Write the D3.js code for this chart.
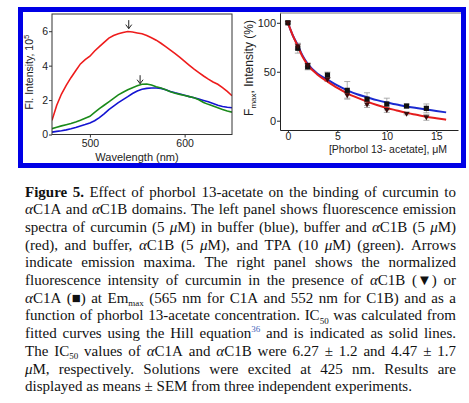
<!DOCTYPE html>
<html>
<head>
<meta charset="utf-8" />
<style>
  body { margin: 0; background: #fff; }
  svg { display: block; }
  .tick text { fill: #222; }
  .sans { font-family: "Liberation Sans", Arial, sans-serif; }
  .serif { font-family: "Liberation Serif", "Times New Roman", serif; }
</style>
</head>
<body>
<svg id="fig" width="469" height="403"></svg>
<script src="https://d3js.org/d3.v7.min.js"></script>
<script>
// left panel: emission spectra (x 10^5)
var wavelengths = [460,465,470,475,480,485,490,495,500,505,510,515,520,525,530,535,540,545,550,555,
                   560,565,570,575,580,585,590,595,600,605,610,615,620,625,630,635,640,645,650];
var bufferOnly = [0.14,0.18,0.22,0.27,0.33,0.41,0.50,0.58,0.67,0.80,0.98,1.20,1.45,1.65,1.85,2.03,2.20,2.38,2.53,2.63,
                  2.68,2.70,2.70,2.68,2.60,2.50,2.42,2.35,2.28,2.20,2.14,2.06,1.98,1.90,1.80,1.70,1.63,1.58,1.55];
var bufferC1B = [0.82,1.70,2.35,2.85,3.30,3.70,4.10,4.35,4.55,4.85,5.10,5.35,5.60,5.75,5.85,5.92,5.98,5.95,5.90,5.85,
                 5.75,5.62,5.48,5.30,5.10,4.90,4.70,4.48,4.25,4.02,3.80,3.60,3.40,3.22,3.05,2.92,2.72,2.50,2.25];
var bufferC1BTPA = [0.34,0.42,0.50,0.57,0.64,0.73,0.83,0.95,1.06,1.28,1.50,1.70,1.90,2.10,2.30,2.45,2.60,2.72,2.83,2.92,
                    2.93,2.88,2.78,2.70,2.60,2.48,2.40,2.33,2.27,2.20,2.13,2.02,1.86,1.75,1.65,1.55,1.45,1.36,1.30];
var arrowNm = [541, 553];
var arrowTip = [6.15, 2.95];
var leftYTicks = [0, 2, 4, 6];
var leftXTicks = [500, 600];

// right panel: normalized intensity vs phorbol 13-acetate
var conc = [0, 1, 2, 4, 6, 8, 10, 12, 14];
var c1a = [100, 74, 55, 46.6, 31, 22, 17, 15, 12.6];
var c1aErr = [1, 5, 3, 3, 9, 6.5, 6, 2, 4.5];
var c1b = [100, 76, 57, 42, 26, 16.5, 11, 7, 3.4];
var c1bErr = [1, 3, 2, 2, 3, 3, 2.5, 1, 3];
var fitX = [0, 0.5, 1, 1.5, 2, 3, 4, 5, 6, 7, 8, 9, 10, 11, 12, 13, 14, 15, 16];
var fitC1A = [100, 87, 77, 66, 58, 48, 42, 36, 31, 27, 24, 21, 18.5, 16.5, 14.5, 13, 11.5, 10, 8.5];
var fitC1B = [100, 87, 76, 65, 57, 47, 40, 33.5, 28, 23.5, 19.5, 16, 13, 10.5, 8, 6, 4, 2.5, 1];
var rightYTicks = [0, 50, 100];
var rightXTicks = [0, 5, 10, 15];

// caption: ~italic~  *bold*  _{sub}  ^{sup}
var captionLines = [
  "*Figure* *5.* Effect of phorbol 13-acetate on the binding of curcumin to",
  "~α~C1A and ~α~C1B domains. The left panel shows fluorescence emission",
  "spectra of curcumin (5 ~μ~M) in buffer (blue), buffer and ~α~C1B (5 ~μ~M)",
  "(red), and buffer, ~α~C1B (5 ~μ~M), and TPA (10 ~μ~M) (green). Arrows",
  "indicate emission maxima. The right panel shows the normalized",
  "fluorescence intensity of curcumin in the presence of ~α~C1B (▼) or",
  "~α~C1A (■) at Em_{max} (565 nm for C1A and 552 nm for C1B) and as a",
  "function of phorbol 13-acetate concentration. IC_{50} was calculated from",
  "fitted curves using the Hill equation^{36} and is indicated as solid lines.",
  "The IC_{50} values of ~α~C1A and ~α~C1B were 6.27 ± 1.2 and 4.47 ± 1.7",
  "~μ~M, respectively. Solutions were excited at 425 nm. Results are",
  "displayed as means ± SEM from three independent experiments."
];

var svg = d3.select("#fig");

// blue frame round both panels
svg.append("rect")
    .attr("x", 20.5).attr("y", 9.5)
    .attr("width", 443).attr("height", 156)
    .attr("fill", "none")
    .attr("stroke", "#0000e6")
    .attr("stroke-width", 5);

// ---------- left panel ----------
var x1 = d3.scaleLinear().domain([460, 650]).range([52, 232]);
var y1 = d3.scaleLinear().domain([0, 7]).range([134.5, 14]);

var left = svg.append("g").attr("class", "sans");

left.append("clipPath").attr("id", "clipL")
  .append("rect").attr("x", 52).attr("y", 14).attr("width", 180).attr("height", 120.5);

var spectra = [
    {values: bufferOnly, color: "#1414d2"},
    {values: bufferC1BTPA, color: "#1a8a1a"},
    {values: bufferC1B, color: "#ee1c1c"}
];
var line1 = d3.line()
    .x(function(d, i) { return x1(wavelengths[i]); })
    .y(function(d) { return y1(d); });

spectra.forEach(function(s) {
    left.append("path")
        .attr("d", line1(s.values))
        .attr("fill", "none")
        .attr("stroke", s.color)
        .attr("stroke-width", 1.6)
        .attr("clip-path", "url(#clipL)");
});

left.append("rect")
    .attr("x", 52).attr("y", 14).attr("width", 180).attr("height", 120.5)
    .attr("fill", "none").attr("stroke", "#333").attr("stroke-width", 1);

var ay1 = left.append("g").attr("transform", "translate(52,0)")
    .call(d3.axisLeft(y1).tickValues(leftYTicks).tickFormat(d3.format("d"))
          .tickSize(3).tickPadding(1).tickSizeOuter(0));
ay1.select(".domain").remove();
var ax1 = left.append("g").attr("transform", "translate(0,134.5)")
    .call(d3.axisBottom(x1).tickValues(leftXTicks).tickFormat(d3.format("d"))
          .tickSize(3).tickPadding(2).tickSizeOuter(0));
ax1.select(".domain").remove();
left.selectAll(".tick text").attr("font-size", 10.5).attr("font-family", null);
left.selectAll(".tick line").attr("stroke", "#333");

left.append("text")
    .attr("x", 137).attr("y", 161)
    .attr("text-anchor", "middle").attr("font-size", 11).attr("fill", "#222")
    .text("Wavelength (nm)");

var yl1 = left.append("text")
    .attr("transform", "translate(33,72) rotate(-90)")
    .attr("text-anchor", "middle").attr("font-size", 10.5).attr("fill", "#222");
yl1.append("tspan").text("Fl. Intensity, 10");
yl1.append("tspan").attr("font-size", 8).attr("dy", -4).text("5");

// arrows at emission maxima
arrowNm.forEach(function(nm, i) {
    var ax = x1(nm), tip = y1(arrowTip[i]);
    left.append("path")
        .attr("d", "M" + ax + "," + (tip - 8.5) + "V" + tip +
                   "M" + (ax - 3) + "," + (tip - 4) + "L" + ax + "," + tip + "L" + (ax + 3) + "," + (tip - 4))
        .attr("fill", "none").attr("stroke", "#222").attr("stroke-width", 1);
});

// ---------- right panel ----------
var x2 = d3.scaleLinear().domain([-0.8, 17.2]).range([280, 458]);
var y2 = d3.scaleLinear().domain([-9.5, 110]).range([130, 13]);

var right = svg.append("g").attr("class", "sans");

right.append("line")
    .attr("x1", 280).attr("x2", 461).attr("y1", 13).attr("y2", 13)
    .attr("stroke", "#777").attr("stroke-width", 1);

var ay2 = right.append("g").attr("transform", "translate(280,0)")
    .call(d3.axisLeft(y2).tickValues(rightYTicks).tickFormat(d3.format("d"))
          .tickSize(3).tickPadding(1).tickSizeOuter(0));
var ax2 = right.append("g").attr("transform", "translate(0,130)")
    .call(d3.axisBottom(x2).tickValues(rightXTicks).tickFormat(d3.format("d"))
          .tickSize(2).tickPadding(0.5).tickSizeOuter(0));
right.selectAll(".tick text").attr("font-size", 11).attr("font-family", null);
ax2.selectAll(".tick text").attr("font-size", 10.5);
right.selectAll(".domain, .tick line").attr("stroke", "#222");

right.append("text")
    .attr("x", 388).attr("y", 152.5)
    .attr("text-anchor", "middle").attr("font-size", 10.5).attr("fill", "#222")
    .text("[Phorbol 13- acetate], μM");

var yl2 = right.append("text")
    .attr("transform", "translate(253,68) rotate(-90)")
    .attr("text-anchor", "middle").attr("font-size", 12).attr("fill", "#222");
yl2.append("tspan").text("F");
yl2.append("tspan").attr("font-size", 8).attr("dy", 3).text("max");
yl2.append("tspan").attr("dy", -3).text(", Intensity (%)");

// error bars
function errorBars(vals, errs) {
    conc.forEach(function(c, i) {
        var cx = x2(c), top = y2(vals[i] + errs[i]), bot = y2(vals[i] - errs[i]);
        right.append("path")
            .attr("d", "M" + cx + "," + top + "V" + bot +
                       "M" + (cx - 3) + "," + top + "H" + (cx + 3) +
                       "M" + (cx - 3) + "," + bot + "H" + (cx + 3))
            .attr("fill", "none").attr("stroke", "#999").attr("stroke-width", 0.8);
    });
}
errorBars(c1a, c1aErr);
errorBars(c1b, c1bErr);

var line2 = d3.line()
    .x(function(d, i) { return x2(fitX[i]); })
    .y(function(d) { return y2(d); })
    .curve(d3.curveMonotoneX);

right.append("path").attr("d", line2(fitC1A))
    .attr("fill", "none").attr("stroke", "#1a2ad0").attr("stroke-width", 2);
right.append("path").attr("d", line2(fitC1B))
    .attr("fill", "none").attr("stroke", "#e41c1c").attr("stroke-width", 2);

// markers
right.selectAll(".sq").data(c1a).enter().append("rect")
    .attr("x", function(d, i) { return x2(conc[i]) - 2.6; })
    .attr("y", function(d) { return y2(d) - 2.6; })
    .attr("width", 5.2).attr("height", 5.2)
    .attr("fill", "#111");
right.selectAll(".tri").data(c1b).enter().append("path")
    .attr("d", function(d, i) {
        var cx = x2(conc[i]), cy = y2(d);
        return "M" + (cx - 3) + "," + (cy - 2) + "L" + (cx + 3) + "," + (cy - 2) + "L" + cx + "," + (cy + 3) + "Z";
    })
    .attr("fill", "#3a0d0d");

// ---------- caption ----------
var cap = svg.append("g").attr("class", "serif").attr("font-size", 15).attr("fill", "#111");

function parseWord(w) {
    return w.split(/(~[^~]+~|\*[^*]+\*|_\{[^}]+\}|\^\{[^}]+\})/).filter(function(s) { return s.length; })
        .map(function(s) {
            if (s[0] === "~") return {t: s.slice(1, -1), kind: "it"};
            if (s[0] === "*") return {t: s.slice(1, -1), kind: "b"};
            if (s[0] === "_") return {t: s.slice(2, -1), kind: "sub"};
            if (s[0] === "^") return {t: s.slice(2, -1), kind: "sup"};
            return {t: s, kind: ""};
        });
}

var capLeft = 25, capRight = 456, capTop = 196.5, capStep = 17.7;

captionLines.forEach(function(str, li) {
    var y = capTop + li * capStep;
    var words = str.split(" ").map(parseWord);
    var nodes = words.map(function(segs) {
        var t = cap.append("text").attr("y", y);
        var shift = 0;
        segs.forEach(function(s) {
            var ts = t.append("tspan").text(s.t);
            var want = s.kind === "sub" ? 3.5 : s.kind === "sup" ? -6 : 0;
            if (want !== shift) { ts.attr("dy", want - shift); shift = want; }
            if (s.kind === "it") ts.attr("font-style", "italic");
            if (s.kind === "b") ts.attr("font-weight", "bold");
            if (s.kind === "sub" || s.kind === "sup") ts.attr("font-size", 9);
            if (s.kind === "sup") ts.attr("fill", "#4466bb");
        });
        return t;
    });
    var widths = nodes.map(function(t) { return t.node().getComputedTextLength(); });
    var total = d3.sum(widths);
    var last = li === captionLines.length - 1;
    var gap = last ? 3.75 : (capRight - capLeft - total) / (nodes.length - 1);
    var xpos = capLeft;
    nodes.forEach(function(t, i) {
        t.attr("x", xpos);
        t.selectAll("tspan").filter(function(d, j) { return j === 0; }).attr("x", xpos);
        xpos += widths[i] + gap;
    });
});
</script>
</body>
</html>
